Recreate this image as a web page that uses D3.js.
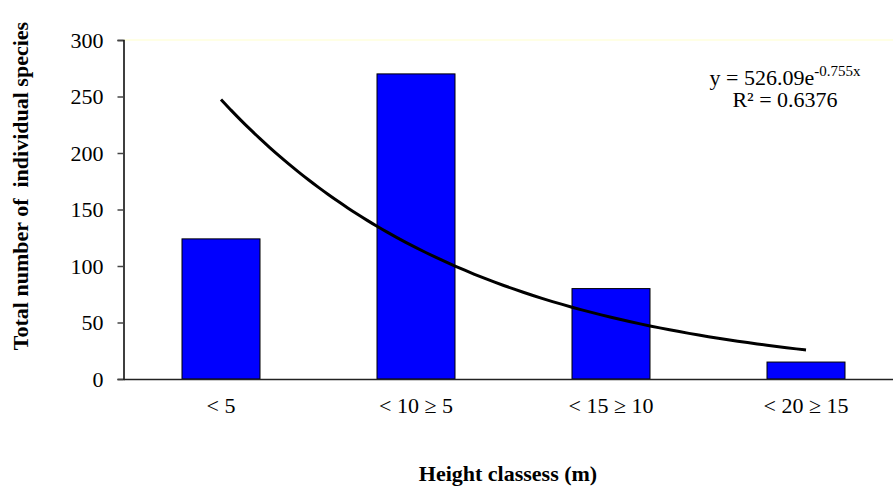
<!DOCTYPE html>
<html>
<head>
<meta charset="utf-8">
<script src="https://cdn.jsdelivr.net/npm/d3@7"></script>
<style>
  html, body { margin: 0; padding: 0; background: #fff; }
  svg { display: block; }
  text { font-family: "Liberation Serif", "Times New Roman", serif; fill: #000; }
</style>
</head>
<body>
<svg id="chart" width="893" height="486"></svg>
<script>
// Height classes and number of individuals per class
const categories = ["< 5", "< 10 \u2265 5", "< 15 \u2265 10", "< 20 \u2265 15"];
const counts = [124, 270, 80, 15];
const yTicks = [0, 50, 100, 150, 200, 250, 300];
// Exponential trend fitted over class index 1..4
const trendA = 526.09;
const trendB = -0.755;
const trendR2 = "0.6376";

const svg = d3.select("#chart");
const plotLeft = 123.5, plotRight = 903.5, plotTop = 40, plotBottom = 379;
const serif = "'Liberation Serif', 'Times New Roman', serif";

const x = d3.scaleBand()
  .domain(categories)
  .range([plotLeft, plotRight])
  .paddingInner(0.6)
  .paddingOuter(0.3);

const y = d3.scaleLinear().domain([0, 300]).range([plotBottom, plotTop]);

// trend x is the class index (1-based), placed on band centres
const xi = d3.scaleLinear()
  .domain([1, categories.length])
  .range([x(categories[0]) + x.bandwidth() / 2,
          x(categories[categories.length - 1]) + x.bandwidth() / 2]);

// plot frame top edge
svg.append("line")
  .attr("x1", plotLeft).attr("x2", plotRight)
  .attr("y1", plotTop).attr("y2", plotTop)
  .attr("stroke", "#ffffdc").attr("stroke-width", 1.5);

// bars
svg.append("g").selectAll("rect")
  .data(counts)
  .join("rect")
  .attr("x", (d, i) => x(categories[i]))
  .attr("width", x.bandwidth())
  .attr("y", d => y(d))
  .attr("height", d => y(0) - y(d))
  .attr("fill", "#0000ff")
  .attr("stroke", "#000")
  .attr("stroke-width", 1);

// y axis
const yAxis = svg.append("g")
  .attr("transform", `translate(${plotLeft},0)`)
  .call(d3.axisLeft(y).tickValues(yTicks).tickSize(6).tickPadding(14).tickFormat(d3.format("d")));
yAxis.attr("font-family", serif).attr("font-size", 22);
yAxis.select(".domain").attr("stroke", "#000").attr("stroke-width", 1.5);
yAxis.selectAll(".tick line").attr("stroke", "#444").attr("stroke-width", 1.5);

// x axis
const xAxis = svg.append("g")
  .attr("transform", `translate(0,${plotBottom})`)
  .call(d3.axisBottom(x).tickSize(0).tickPadding(18));
xAxis.attr("font-family", serif).attr("font-size", 22);
xAxis.select(".domain").attr("stroke", "#222").attr("stroke-width", 1.5);

// exponential trend line
const trendPts = d3.range(1, 4.0001, 0.05).map(t => [t, trendA * Math.exp(trendB * t)]);
svg.append("path")
  .datum(trendPts)
  .attr("fill", "none")
  .attr("stroke", "#000")
  .attr("stroke-width", 3)
  .attr("d", d3.line().x(d => xi(d[0])).y(d => y(d[1])).curve(d3.curveBasis));

// trend equation
const eq = svg.append("text")
  .attr("x", 785).attr("y", 85)
  .attr("text-anchor", "middle")
  .style("font-size", "22px");
eq.append("tspan").text("y = " + trendA.toFixed(2) + "e");
eq.append("tspan").attr("dy", -9).style("font-size", "15px").text(trendB + "x");
svg.append("text")
  .attr("x", 785).attr("y", 107)
  .attr("text-anchor", "middle")
  .style("font-size", "22px")
  .text("R\u00b2 = " + trendR2);

// axis titles
svg.append("text")
  .attr("transform", "translate(28,186) rotate(-90)")
  .attr("text-anchor", "middle")
  .style("font-size", "22px").style("font-weight", "bold")
  .style("white-space", "pre")
  .text("Total number of  individual species");

svg.append("text")
  .attr("x", 508).attr("y", 481)
  .attr("text-anchor", "middle")
  .style("font-size", "22px").style("font-weight", "bold")
  .text("Height classess (m)");
</script>
</body>
</html>
